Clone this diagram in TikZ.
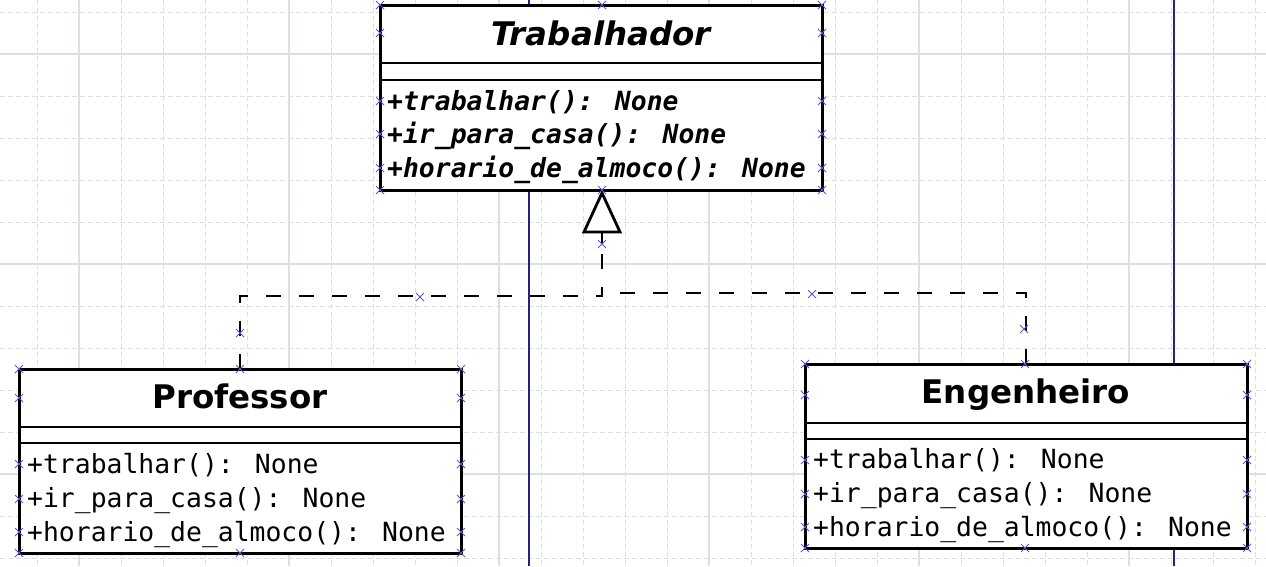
\documentclass[tikz,border=0pt]{standalone}
\usepackage{fontspec}
\setmainfont{DejaVu Sans}
\newfontfamily\umlmono{DejaVu Sans Mono}
\begin{document}
\begin{tikzpicture}[x=1pt,y=-1pt]
\definecolor{gridc}{RGB}{220,224,224}
\definecolor{navyc}{RGB}{35,35,120}
\definecolor{markc}{RGB}{90,90,200}
\tikzset{
  classbox/.style={draw=black, line width=3pt, fill=white, rectangle, inner sep=0pt, outer sep=0pt, anchor=north west},
  cline/.style={draw=black, line width=2.8pt},
  titletext/.style={font=\fontsize{32.5}{38}\selectfont\bfseries, anchor=base, inner sep=0pt},
  abstitle/.style={font=\fontsize{32.5}{38}\selectfont\bfseries\itshape, anchor=base, inner sep=0pt},
  methtext/.style={font=\umlmono\fontsize{26.4}{32}\selectfont, anchor=base west, inner sep=0pt},
  absmeth/.style={font=\umlmono\fontsize{26.4}{32}\selectfont\bfseries\itshape, anchor=base west, inner sep=0pt},
  realize/.style={draw=black, line width=2.8pt, dash pattern=on 15pt off 18pt},
  gridminor/.style={draw=gridc, line width=1pt, dash pattern=on 5pt off 3pt},
  gridmajor/.style={draw=gridc, line width=1.2pt},
  navyline/.style={draw=navyc, line width=1.6pt},
  xmark/.style={draw=markc, line width=1pt}
}
% canvas
\useasboundingbox (0,0) rectangle (1266,566);
\fill[white] (0,0) rectangle (1266,566);
% grid
\foreach \k in {0,...,29}{
  \pgfmathsetmacro{\gx}{37+42*\k}
  \pgfmathtruncatemacro{\gm}{mod(\k,5)}
  \ifnum\gm=1 \draw[gridmajor] (\gx,0) -- (\gx,566); \else \draw[gridminor] (\gx,0) -- (\gx,566); \fi
}
\foreach \k in {0,...,13}{
  \pgfmathsetmacro{\gy}{12+42*\k}
  \pgfmathtruncatemacro{\gm}{mod(\k,5)}
  \ifnum\gm=1 \draw[gridmajor] (0,\gy) -- (1266,\gy); \else \draw[gridminor] (0,\gy) -- (1266,\gy); \fi
}
% navy vertical lines
\draw[navyline] (529,0) -- (529,566);
\draw[navyline] (1174,0) -- (1174,566);

% Trabalhador
\node[classbox, minimum width=442pt, minimum height=185pt] (trab) at (380,5) {};
\draw[cline] (trab.west |- 0,63) -- (trab.east |- 0,63);
\draw[cline] (trab.west |- 0,80) -- (trab.east |- 0,80);
\node[abstitle] (trabname) at (601,45) {Trabalhador};
\node[absmeth] (tm1) at (387,110) {+trabalhar(): None};
\node[absmeth] (tm2) at (387,143.5) {+ir\_para\_casa(): None};
\node[absmeth] (tm3) at (387,177) {+horario\_de\_almoco(): None};

% Professor
\node[classbox, minimum width=442pt, minimum height=184pt] (prof) at (19,369) {};
\draw[cline] (prof.west |- 0,427) -- (prof.east |- 0,427);
\draw[cline] (prof.west |- 0,443) -- (prof.east |- 0,443);
\node[titletext] (profname) at (240,408) {Professor};
\node[methtext] (pm1) at (27,473) {+trabalhar(): None};
\node[methtext] (pm2) at (27,507.5) {+ir\_para\_casa(): None};
\node[methtext] (pm3) at (27,541.5) {+horario\_de\_almoco(): None};

% Engenheiro
\node[classbox, minimum width=442pt, minimum height=184pt] (eng) at (805,364) {};
\draw[cline] (eng.west |- 0,423) -- (eng.east |- 0,423);
\draw[cline] (eng.west |- 0,439) -- (eng.east |- 0,439);
\node[titletext] (engname) at (1026,403) {Engenheiro};
\node[methtext] (em1) at (813,468) {+trabalhar(): None};
\node[methtext] (em2) at (813,502.5) {+ir\_para\_casa(): None};
\node[methtext] (em3) at (813,536) {+horario\_de\_almoco(): None};

% realization connectors
\coordinate (apex) at (602,193);
\coordinate (base) at (602,232);
\coordinate (stem) at (602,244);
\coordinate (joinL) at (602,296);
\coordinate (joinR) at (602,293);
\draw[realize] (prof.north) -- (prof.north |- joinL) -- (joinL) -- (stem);
\draw[realize] (eng.north) -- (eng.north |- joinR) -- (joinR);
\draw[black, line width=2.8pt] (base) -- (stem);
\draw[black, line width=2.8pt, fill=white, line join=miter]
  (apex) -- ([xshift=-18pt]base) -- ([xshift=18pt]base) -- cycle;

% selection marks
\foreach \px/\py in {
  380/5,602/5,822/5,380/33,822/33,380/101,822/101,380/134,822/134,380/168,822/168,380/190,602/190,822/190,
  19/369,240/369,461/369,19/398,461/398,19/464,461/464,19/499,461/499,19/532,461/532,19/553,240/553,461/553,
  805/364,1025/364,1247/364,805/395,1247/395,805/460,1247/460,805/494,1247/494,805/527,1247/527,805/548,1025/548,1247/548,
  240/333,420/297,602/244,812/294,1024/329}{
  \draw[xmark] (\px-4,\py-4) -- (\px+4,\py+4) (\px-4,\py+4) -- (\px+4,\py-4);
}
\end{tikzpicture}
\end{document}
